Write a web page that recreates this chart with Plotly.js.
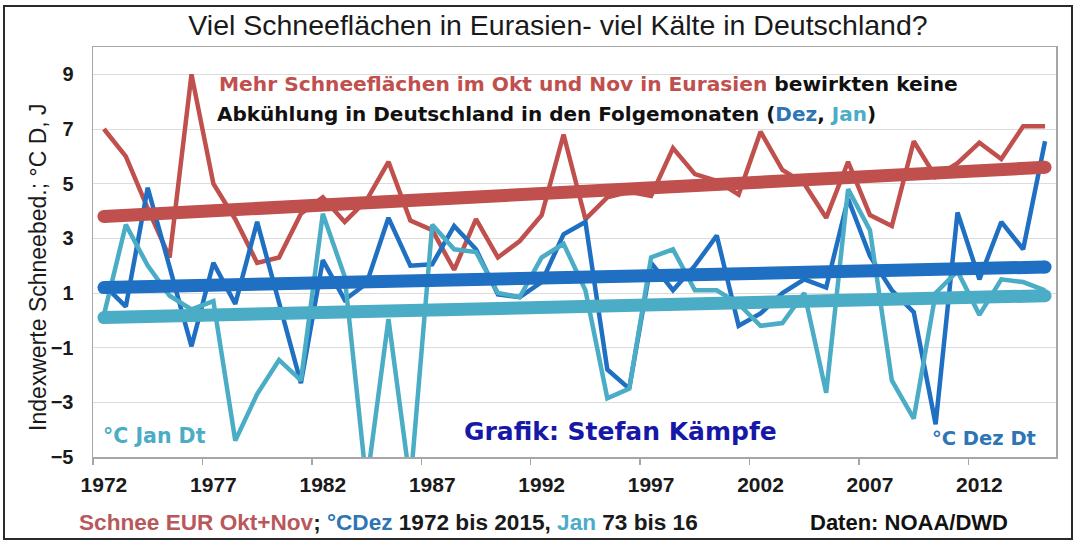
<!DOCTYPE html>
<html>
<head>
<meta charset="utf-8">
<script src="https://cdn.plot.ly/plotly-3.0.1.min.js"></script>
<style>
  html, body { margin: 0; padding: 0; background: #ffffff; }
  #wrap { position: relative; width: 1074px; height: 542px; }
  #chart { width: 1074px; height: 542px; }
  #frame { position: absolute; left: 3px; top: 5px; width: 1066px; height: 531px;
           border: 2px solid #2a2a2a; pointer-events: none; }
</style>
</head>
<body>
<div id="wrap"><div id="chart"></div><div id="frame"></div></div>
<script>
// ---- data ----
const years = [1972,1973,1974,1975,1976,1977,1978,1979,1980,1981,
               1982,1983,1984,1985,1986,1987,1988,1989,1990,1991,
               1992,1993,1994,1995,1996,1997,1998,1999,2000,2001,
               2002,2003,2004,2005,2006,2007,2008,2009,2010,2011,
               2012,2013,2014,2015];
// Schnee Eurasien Okt+Nov (Index)
const snowOktNov = [7.0,6.0,4.1,2.3,9.0,5.0,3.7,2.1,2.3,3.9,
                    4.5,3.6,4.4,5.8,3.65,3.3,1.85,3.7,2.3,2.9,
                    3.85,6.8,3.7,4.5,4.7,4.55,6.3,5.35,5.1,4.6,
                    6.9,5.5,5.0,3.75,5.8,3.85,3.45,6.55,5.25,5.75,
                    6.5,5.9,7.1,7.1];
// °C Dezember Deutschland
const tempDez = [1.3,0.5,4.85,2.0,-0.95,2.1,0.6,3.6,0.65,-2.3,
                 2.2,0.75,1.35,3.75,2.0,2.05,3.45,2.6,0.95,0.85,
                 1.4,3.15,3.6,-1.8,-2.5,2.1,1.1,2.0,3.1,-0.2,
                 0.25,1.0,1.5,1.2,4.45,2.35,1.1,0.3,-3.8,3.95,
                 1.5,3.6,2.6,6.55];
// °C Januar Deutschland (Folgejahr)
const tempJan = [0.2,3.5,2.0,0.9,0.4,0.7,-4.4,-2.7,-1.45,-2.2,
                 3.9,1.6,-6.0,0.05,-6.0,3.5,2.6,2.5,1.0,0.85,
                 2.3,2.8,1.1,-2.85,-2.5,2.3,2.6,1.1,1.1,0.6,
                 -0.2,-0.1,1.0,-2.65,4.8,3.3,-2.2,-3.6,1.0,1.8,
                 0.2,1.5,1.4,1.1];
// linear trend end points
const trendYears = [1972, 2015];
const snowTrend = [3.8, 5.6];
const dezTrend = [1.2, 1.95];
const janTrend = [0.1, 0.9];
// axis ticks
const xTickYears = [1972,1977,1982,1987,1992,1997,2002,2007,2012];
const xTickText = ["1972","1977","1982","1987","1992","1997","2002","2007","2012"];
const yTicks = [-5,-3,-1,1,3,5,7,9];

// ---- styling ----
const RED = '#c0504d', DBLUE = '#1f6fc2', LBLUE = '#4bacc6';
const W = 1074, H = 542, ML = 93, MR = 18, MT = 47, MB = 85;
const PW = W - ML - MR, PH = H - MT - MB;
const px = x => (x - ML) / PW;           // pixel -> paper x
const py = y => (H - MB - y) / PH;       // pixel -> paper y

const dataLine = (y, c, name) => ({
  x: years, y: y, type: 'scatter', mode: 'lines', name: name,
  line: { color: c, width: 4.5 }, hoverinfo: 'x+y'
});
const trendLine = (y, c, name) => ({
  x: trendYears, y: y, type: 'scatter', mode: 'lines+markers', name: name,
  line: { color: c, width: 13 }, marker: { color: c, size: 13 }, hoverinfo: 'skip'
});

const traces = [
  dataLine(snowOktNov, RED, 'Schnee EUR Okt+Nov'),
  dataLine(tempDez, DBLUE, '°C Dez Dt'),
  dataLine(tempJan, LBLUE, '°C Jan Dt'),
  trendLine(snowTrend, RED, 'Trend Schnee'),
  trendLine(dezTrend, DBLUE, 'Trend Dez'),
  trendLine(janTrend, LBLUE, 'Trend Jan')
];

const boundaries = xTickYears.map(v => v - 0.5);

const layout = {
  width: W, height: H,
  margin: { l: ML, r: MR, t: MT, b: MB, pad: 0 },
  paper_bgcolor: '#ffffff', plot_bgcolor: '#ffffff',
  showlegend: false,
  title: {
    text: 'Viel Schneeflächen in Eurasien- viel Kälte in Deutschland?',
    x: 558 / W, xanchor: 'center', y: 1 - 25 / H, yanchor: 'middle',
    font: { family: 'Liberation Sans, Arial, sans-serif', size: 28.5, color: '#1a1a1a' }
  },
  xaxis: {
    range: [1971.5, 2015.5], tickmode: 'array', tickvals: xTickYears, ticktext: xTickText,
    ticks: '', showgrid: false, zeroline: false,
    showline: true, linecolor: '#a6a6a6', linewidth: 1.5, mirror: true,
    tickfont: { family: 'Liberation Sans, Arial, sans-serif', size: 21, color: '#1a1a1a', weight: 'bold' },
    ticklabelstandoff: 8,
    minor: { tickmode: 'array', tickvals: boundaries, ticks: 'outside', ticklen: 6,
             tickwidth: 1.5, tickcolor: '#a6a6a6', showgrid: false }
  },
  yaxis: {
    range: [-5, 10], tickmode: 'array', tickvals: yTicks,
    ticks: '', showgrid: true, gridcolor: '#dcdcdc', gridwidth: 1, zeroline: false,
    showline: true, linecolor: '#a6a6a6', linewidth: 1.5, mirror: true,
    tickfont: { family: 'Liberation Sans, Arial, sans-serif', size: 20, color: '#1a1a1a', weight: 'bold' },
    ticklabelstandoff: 14
  },
  annotations: [
    { xref: 'paper', yref: 'paper', x: px(38), y: py(267), textangle: -90,
      xanchor: 'center', yanchor: 'middle', showarrow: false,
      text: 'Indexwerte Schneebed.; °C D, J',
      font: { family: 'Liberation Sans, Arial, sans-serif', size: 23, color: '#1a1a1a' } },
    { xref: 'paper', yref: 'paper', x: px(217), y: py(84), xanchor: 'left', yanchor: 'middle',
      showarrow: false,
      text: '<span style="color:' + RED + '">Mehr Schneeflächen im Okt und Nov in Eurasien</span> bewirkten keine',
      font: { family: 'DejaVu Sans, sans-serif', size: 20.2, color: '#111111', weight: 'bold' } },
    { xref: 'paper', yref: 'paper', x: px(215), y: py(114), xanchor: 'left', yanchor: 'middle',
      showarrow: false,
      text: 'Abkühlung in Deutschland in den Folgemonaten (<span style="color:#2e75b6">Dez</span>, <span style="color:' + LBLUE + '">Jan</span>)',
      font: { family: 'DejaVu Sans, sans-serif', size: 20, color: '#111111', weight: 'bold' } },
    { xref: 'paper', yref: 'paper', x: px(620), y: py(431), xanchor: 'center', yanchor: 'middle',
      showarrow: false, text: 'Grafik: Stefan Kämpfe',
      font: { family: 'DejaVu Sans, sans-serif', size: 25, color: '#1818a8', weight: 'bold' } },
    { xref: 'paper', yref: 'paper', x: px(101), y: py(436), xanchor: 'left', yanchor: 'middle',
      showarrow: false, text: '°C Jan Dt',
      font: { family: 'DejaVu Sans, sans-serif', size: 20.5, color: LBLUE, weight: 'bold' } },
    { xref: 'paper', yref: 'paper', x: px(1038), y: py(438), xanchor: 'right', yanchor: 'middle',
      showarrow: false, text: '°C Dez Dt',
      font: { family: 'DejaVu Sans, sans-serif', size: 19.5, color: '#2e75b6', weight: 'bold' } },
    { xref: 'paper', yref: 'paper', x: px(77), y: py(522), xanchor: 'left', yanchor: 'middle',
      showarrow: false,
      text: '<span style="color:#b9585b">Schnee EUR Okt+Nov</span>; <span style="color:#2e75b6">°CDez</span> 1972 bis 2015, <span style="color:' + LBLUE + '">Jan</span> 73 bis 16',
      font: { family: 'Liberation Sans, Arial, sans-serif', size: 22.6, color: '#1a1a1a', weight: 'bold' } },
    { xref: 'paper', yref: 'paper', x: px(1010), y: py(522), xanchor: 'right', yanchor: 'middle',
      showarrow: false, text: 'Daten: NOAA/DWD',
      font: { family: 'Liberation Sans, Arial, sans-serif', size: 22, color: '#111111', weight: 'bold' } }
  ]
};

Plotly.newPlot('chart', traces, layout, { displayModeBar: false, staticPlot: true });
</script>
</body>
</html>
